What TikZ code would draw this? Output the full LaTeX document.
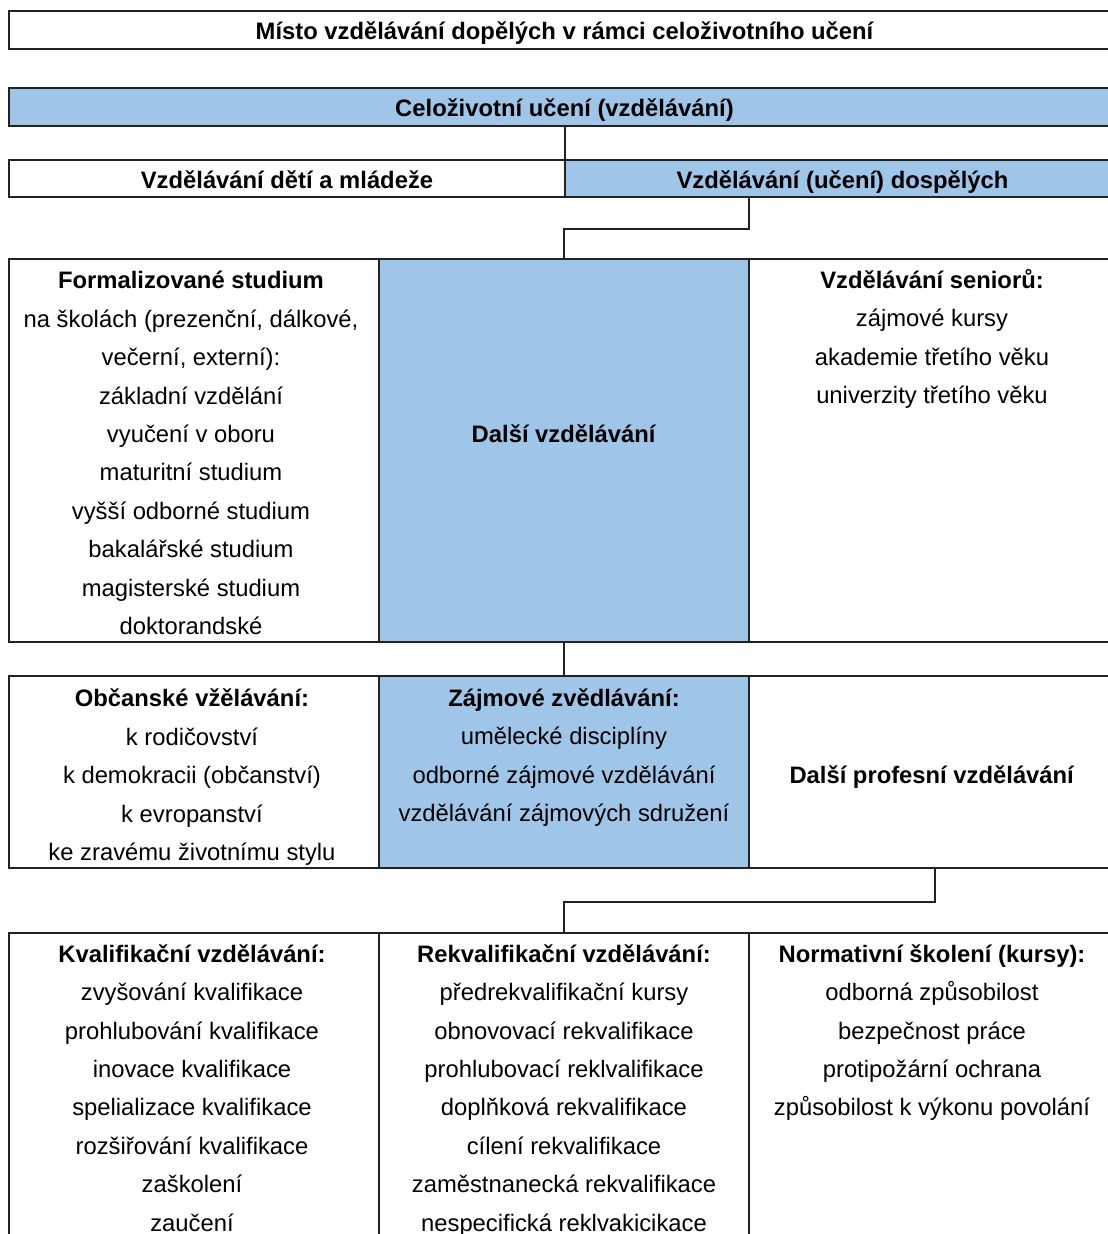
\documentclass[tikz,border=0pt]{standalone}
\usepackage{fontspec}
\setmainfont{Liberation Sans}
\definecolor{boxblue}{HTML}{9FC5E8}
\definecolor{lineclr}{HTML}{222222}
\begin{document}
\begin{tikzpicture}[x=1pt,y=-1pt,
  cell/.style={draw=lineclr,line width=2pt,rectangle,inner sep=0pt,outer sep=0pt,anchor=north west,
    font=\fontsize{23.8}{38.4}\selectfont\bfseries,text height=21.5pt,text depth=2.5pt},
  bluecell/.style={cell,fill=boxblue},
  txt/.style={align=center,inner sep=0pt,outer sep=0pt,font=\fontsize{23.8}{38.4}\selectfont,text=black},
  link/.style={draw=lineclr,line width=2pt}]
\useasboundingbox (0,0) rectangle (1108,1234);
\fill[white] (0,0) rectangle (1108,1234);
\clip (0,0) rectangle (1108,1234);
% top rows
\node[cell,minimum width=1111pt,minimum height=38pt] (title) at (9,11) {Místo vzdělávání dopělých v rámci celoživotního učení};
\node[bluecell,minimum width=1111pt,minimum height=38pt] (life) at (9,88) {Celoživotní učení (vzdělávání)};
\node[cell,minimum width=556pt,minimum height=37pt] (kids) at (9,160) {Vzdělávání dětí a mládeže};
\node[bluecell,minimum width=555pt,minimum height=37pt] (adult) at (565,160) {Vzdělávání (učení) dospělých};
% row 4
\node[cell,minimum width=370pt,minimum height=383pt] (r4l) at (9,259) {};
\node[cell,minimum width=371pt,minimum height=383pt] (r4r) at (749,259) {};
\node[bluecell,minimum width=370pt,minimum height=383pt] (r4m) at (379,259) {};
% row 5
\node[cell,minimum width=370pt,minimum height=192pt] (r5l) at (9,676) {};
\node[cell,minimum width=371pt,minimum height=192pt] (r5r) at (749,676) {};
\node[bluecell,minimum width=370pt,minimum height=192pt] (r5m) at (379,676) {};
% row 6
\node[cell,minimum width=370pt,minimum height=340pt] (r6l) at (9,933) {};
\node[cell,minimum width=370pt,minimum height=340pt] (r6m) at (379,933) {};
\node[cell,minimum width=371pt,minimum height=340pt] (r6r) at (749,933) {};
% connectors
\coordinate (j1) at (749,229);
\coordinate (j2) at (934.5,902);
\draw[link] (life.south) -- (life.south |- adult.north);
\draw[link] (r4m.east |- adult.south) -- (j1) -| (r4m.north);
\draw[link] (r4m.south) -- (r5m.north);
\draw[link] (r5r.south) -- (j2) -| (r6m.north);
% texts
\node[txt] (t4l) at (191,454) {\strut\textbf{Formalizované studium}\\na školách (prezenční, dálkové,\\večerní, externí):\\základní vzdělání\\vyučení v oboru\\maturitní studium\\vyšší odborné studium\\bakalářské studium\\magisterské studium\\doktorandské\strut};
\node[txt] (t4m) at (564,435) {\strut\textbf{Další vzdělávání}};
\node[txt] (t4r) at (932,338.5) {\strut\textbf{Vzdělávání seniorů:}\\zájmové kursy\\akademie třetího věku\\univerzity třetího věku\strut};
\node[txt] (t5l) at (192,776) {\strut\textbf{Občanské vžělávání:}\\k rodičovství\\k demokracii (občanství)\\k evropanství\\ke zravému životnímu stylu\strut};
\node[txt] (t5m) at (564,756.5) {\strut\textbf{Zájmové zvědlávání:}\\umělecké disciplíny\\odborné zájmové vzdělávání\\vzdělávání zájmových sdružení\strut};
\node[txt] (t5r) at (932,776) {\strut\textbf{Další profesní vzdělávání}};
\node[txt] (t6l) at (192,1089) {\strut\textbf{Kvalifikační vzdělávání:}\\zvyšování kvalifikace\\prohlubování kvalifikace\\inovace kvalifikace\\spelializace kvalifikace\\rozšiřování kvalifikace\\zaškolení\\zaučení\strut};
\node[txt] (t6m) at (564,1089) {\strut\textbf{Rekvalifikační vzdělávání:}\\předrekvalifikační kursy\\obnovovací rekvalifikace\\prohlubovací reklvalifikace\\doplňková rekvalifikace\\cílení rekvalifikace\\zaměstnanecká rekvalifikace\\nespecifická reklvakicikace\strut};
\node[txt] (t6r) at (932,1031.5) {\strut\textbf{Normativní školení (kursy):}\\odborná způsobilost\\bezpečnost práce\\protipožární ochrana\\způsobilost k výkonu povolání\strut};
\end{tikzpicture}
\end{document}
